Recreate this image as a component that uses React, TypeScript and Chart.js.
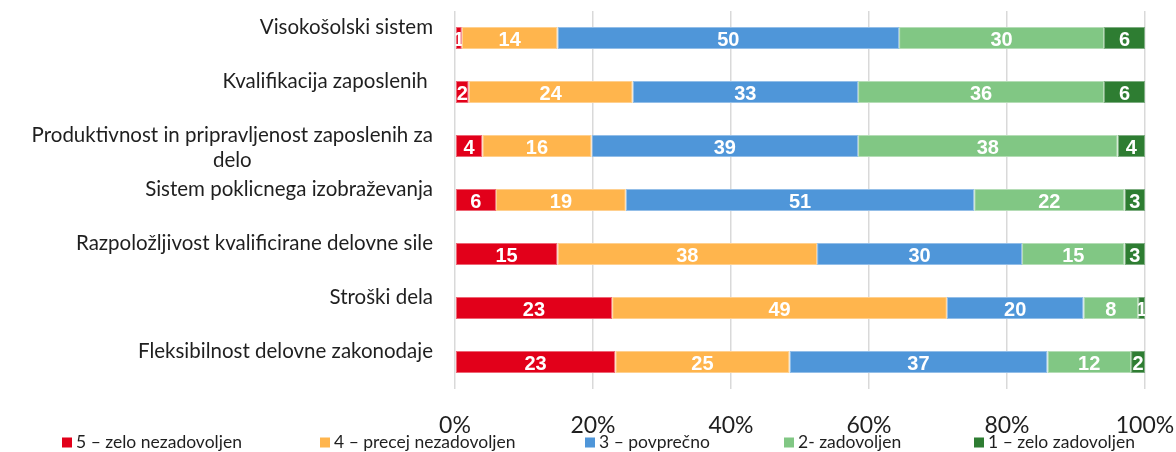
import { useEffect, useRef } from "react";
import { Chart, registerables } from "chart.js";

Chart.register(...registerables);

// ---- data ----
const categories: (string | string[])[] = [
  "Visokošolski sistem",
  "Kvalifikacija zaposlenih ",
  ["Produktivnost in pripravljenost zaposlenih za", "delo"],
  "Sistem poklicnega izobraževanja",
  "Razpoložljivost kvalificirane delovne sile",
  "Stroški dela",
  "Fleksibilnost delovne zakonodaje",
];

const seriesNames = [
  "5 – zelo nezadovoljen",
  "4 – precej nezadovoljen",
  "3 – povprečno",
  "2- zadovoljen",
  "1 – zelo zadovoljen",
];

const zeloNezadovoljen = [1, 2, 4, 6, 15, 23, 23];
const precejNezadovoljen = [14, 24, 16, 19, 38, 49, 25];
const povprecno = [50, 33, 39, 51, 30, 20, 37];
const zadovoljen = [30, 36, 38, 22, 15, 8, 12];
const zeloZadovoljen = [6, 6, 4, 3, 3, 1, 2];

const xTickValues = [0, 20, 40, 60, 80, 100];

// ---- style ----
const COLORS = ["#E2001A", "#FFB54D", "#4F96D9", "#81C784", "#2E7D32"];
const BORDERS = ["#EE6675", "#FFD08F", "#93BEE8", "#B5DDB6", "#7FAE82"];
const LEGEND_X = [62, 320, 585, 784, 974];
const FONT = "Lato";

const seriesValues = [zeloNezadovoljen, precejNezadovoljen, povprecno, zadovoljen, zeloZadovoljen];
const rowTotals = categories.map((_, i) => seriesValues.reduce((s, arr) => s + arr[i], 0));

const yLabelPlugin = {
  id: "yLabels",
  afterDraw(chart: any) {
    const { ctx, chartArea, scales } = chart;
    const y = scales.y;
    ctx.save();
    ctx.font = `20.5px ${FONT}`;
    ctx.fillStyle = "#1f1f1f";
    ctx.textBaseline = "alphabetic";
    const right = chartArea.left - 22;
    categories.forEach((lab, i) => {
      const c = y.getPixelForValue(i);
      const lines = Array.isArray(lab) ? lab : [lab];
      if (lines.length === 1) {
        ctx.textAlign = "right";
        ctx.fillText(lines[0], right, c - 4);
      } else {
        const maxW = Math.max(...lines.map((l) => ctx.measureText(l).width));
        ctx.textAlign = "center";
        lines.forEach((l, k) => ctx.fillText(l, right - maxW / 2, c - 4 + k * 25));
      }
    });
    ctx.restore();
  },
};

const dataLabelPlugin = {
  id: "dataLabels",
  afterDatasetsDraw(chart: any) {
    const { ctx } = chart;
    ctx.save();
    ctx.font = `bold 20px "Liberation Sans", Arial, sans-serif`;
    ctx.fillStyle = "#ffffff";
    ctx.textAlign = "center";
    ctx.textBaseline = "alphabetic";
    chart.data.datasets.forEach((ds: any, di: number) => {
      const meta = chart.getDatasetMeta(di);
      meta.data.forEach((el: any, i: number) => {
        const p = el.getProps(["x", "y", "base", "height"], true);
        const l = Math.min(p.x, p.base);
        const r = Math.max(p.x, p.base);
        ctx.save();
        ctx.beginPath();
        ctx.rect(l, p.y - p.height / 2, r - l, p.height);
        ctx.clip();
        ctx.fillText(String(ds.rawValues[i]), (l + r) / 2, p.y + 8);
        ctx.restore();
      });
    });
    ctx.restore();
  },
};

const legendPlugin = {
  id: "customLegend",
  afterDraw(chart: any) {
    const { ctx } = chart;
    const cy = chart.height - 9.5;
    ctx.save();
    ctx.font = `17.5px ${FONT}`;
    ctx.textBaseline = "middle";
    ctx.textAlign = "left";
    chart.data.datasets.forEach((ds: any, i: number) => {
      ctx.fillStyle = ds.backgroundColor;
      ctx.fillRect(LEGEND_X[i], cy - 5, 10, 10);
      ctx.fillStyle = "#1f1f1f";
      ctx.fillText(ds.label, LEGEND_X[i] + 14, cy);
    });
    ctx.restore();
  },
};

export default function App() {
  const ref = useRef<HTMLCanvasElement>(null);
  useEffect(() => {
    document.body.style.margin = "0";
    const canvas = ref.current!;
    const chart = new Chart(canvas, {
      type: "bar",
      data: {
        labels: categories.map((c) => (Array.isArray(c) ? c.join(" ") : c)),
        datasets: seriesValues.map((vals, si) => ({
          label: seriesNames[si],
          data: vals.map((v, i) => (v / rowTotals[i]) * 100),
          rawValues: vals,
          backgroundColor: COLORS[si],
          borderColor: BORDERS[si],
          borderWidth: 1,
          borderSkipped: false,
          categoryPercentage: 1,
          barPercentage: 0.41,
        })) as any,
      },
      options: {
        indexAxis: "y",
        animation: false,
        responsive: false,
        layout: { padding: { left: 455, right: 31, top: 11, bottom: 15.6 } },
        plugins: { legend: { display: false }, tooltip: { enabled: false }, title: { display: false } },
        scales: {
          x: {
            stacked: true,
            min: 0,
            max: 100,
            afterBuildTicks: (scale: any) => {
              scale.ticks = xTickValues.map((v) => ({ value: v }));
            },
            afterFit: (scale: any) => {
              scale.paddingLeft = 0;
              scale.paddingRight = 0;
              scale.height = 47.4;
            },
            grid: { color: "#D9D9D9", lineWidth: 1.5, drawTicks: false },
            border: { display: false },
            ticks: {
              padding: 23,
              color: "#1f1f1f",
              font: { family: FONT, size: 23 },
              callback: (v: any) => `${v}%`,
            },
          },
          y: { stacked: true, display: false },
        },
      },
      plugins: [yLabelPlugin, dataLabelPlugin, legendPlugin],
    });
    return () => chart.destroy();
  }, []);
  return <canvas ref={ref} width={1176} height={452} style={{ display: "block" }} />;
}
